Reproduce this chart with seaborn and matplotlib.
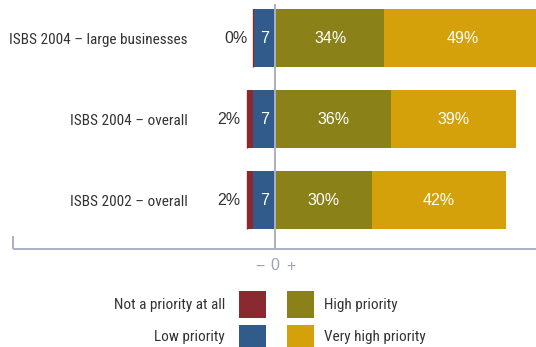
import matplotlib
matplotlib.use("Agg")
import matplotlib.pyplot as plt
from matplotlib.patches import Rectangle
import pandas as pd
import seaborn as sns

# Survey results: priority given to the topic, by survey group
categories = ["ISBS 2004 – large businesses", "ISBS 2004 – overall", "ISBS 2002 – overall"]
not_priority = [0, 2, 2]
low_priority = [7, 7, 7]
high_priority = [34, 36, 30]
very_high_priority = [49, 39, 42]

series_names = ["Not a priority at all", "Low priority", "High priority", "Very high priority"]
colors = {"Not a priority at all": "#8B2930",
          "Low priority": "#305B8B",
          "High priority": "#8B8119",
          "Very high priority": "#D5A10A"}
axis_color = "#A9B0C8"
text_color = "#333333"

sns.set_theme(style="white")
plt.rcParams["font.family"] = ["Roboto Condensed", "DejaVu Sans"]
plt.rcParams["font.stretch"] = "condensed"
num_font = ["Liberation Sans", "DejaVu Sans"]

df = pd.DataFrame({
    "category": categories,
    "not": not_priority,
    "low": low_priority,
    "high": high_priority,
    "very_high": very_high_priority,
})
# Cumulative extents for the diverging stack (negatives to the left of zero)
df["neg_outer"] = -(df["not"] + df["low"])
df["neg_inner"] = -df["low"]
df["pos_outer"] = df["high"] + df["very_high"]
df["pos_inner"] = df["high"]

W, H = 536, 347
fig = plt.figure(figsize=(W / 100, H / 100), dpi=100)
ax = fig.add_axes([0, 0, 1, 1])

bar_w = 0.72
red = colors["Not a priority at all"]
sns.barplot(data=df, x="neg_outer", y="category", orient="h", color=red,
            width=bar_w, saturation=1, linewidth=0, ax=ax)
sns.barplot(data=df, x="neg_inner", y="category", orient="h", color=colors["Low priority"],
            width=bar_w, saturation=1, linewidth=0, ax=ax)
sns.barplot(data=df, x="pos_outer", y="category", orient="h", color=colors["Very high priority"],
            width=bar_w, saturation=1, linewidth=0, ax=ax)
sns.barplot(data=df, x="pos_inner", y="category", orient="h", color=colors["High priority"],
            width=bar_w, saturation=1, linewidth=0, ax=ax)
# Left edge stroke of the outermost segment (keeps a 0% segment visible as a hairline)
ax.vlines(df["neg_outer"], [i - bar_w / 2 for i in range(len(df))],
          [i + bar_w / 2 for i in range(len(df))], color=red, lw=1.0, zorder=3)

# Scale: 3.2 px per percentage point, zero at x=275.7 px; rows 81 px apart
unit = 3.2
x0 = 275.7
ax.set_xlim(-x0 / unit, (W - x0) / unit)
row0, row_step = 38, 81
ax.set_ylim((H - row0) / row_step, -row0 / row_step)
ax.axis("off")

fs = 11
nfs = 11.5
label_x = (188 - x0) / unit
for i, row in df.iterrows():
    ax.text(label_x, i + 0.03, row["category"], ha="right", va="center",
            fontsize=fs, color=text_color)
    ax.text(row["neg_outer"] - 1.9, i + 0.01, f"{row['not']}%", ha="right", va="center",
            fontsize=nfs, color=text_color, family=num_font)
    ax.text(-row["low"] / 2, i + 0.01, f"{row['low']}", ha="center", va="center",
            fontsize=nfs, color="white", family=num_font)
    ax.text(row["high"] / 2, i + 0.01, f"{row['high']}%", ha="center", va="center",
            fontsize=nfs, color="white", family=num_font)
    ax.text(row["high"] + row["very_high"] / 2, i + 0.01, f"{row['very_high']}%",
            ha="center", va="center", fontsize=nfs, color="white", family=num_font)

# Baseline, zero line and left end tick
base_y = (249 - row0) / row_step
top_y = (4 - row0) / row_step
left_x = (13 - x0) / unit
ax.plot([left_x, (W - x0) / unit], [base_y, base_y], color=axis_color, lw=1.4,
        solid_capstyle="butt", zorder=5)
ax.plot([left_x, left_x], [(236 - row0) / row_step, base_y], color=axis_color, lw=1.4,
        solid_capstyle="butt", zorder=5)
ax.plot([-0.3, -0.3], [top_y, base_y], color=axis_color, lw=1.4, solid_capstyle="butt", zorder=5)

tick_y = (266 - row0) / row_step
for dx, s in [(-5.0, "−"), (-0.3, "0"), (4.6, "+")]:
    ax.text(dx, tick_y, s, ha="center", va="center", fontsize=nfs, color="#9AA2BC",
            family=num_font)

# Legend: two columns of swatches, labels outside
def fig_rect(px, py, w, h, color):
    fig.add_artist(Rectangle((px / W, 1 - (py + h) / H), w / W, h / H,
                             transform=fig.transFigure, color=color, lw=0))

def fig_text(px, py, s, ha):
    fig.text(px / W, 1 - py / H, s, ha=ha, va="center", fontsize=fs, color=text_color)

legend_rows = [291, 325]
fig_rect(239, legend_rows[0], 27, 27, colors[series_names[0]])
fig_rect(239, legend_rows[1], 27, 27, colors[series_names[1]])
fig_rect(287, legend_rows[0], 27, 27, colors[series_names[2]])
fig_rect(287, legend_rows[1], 27, 27, colors[series_names[3]])
fig_text(225, 305, series_names[0], "right")
fig_text(225, 336.5, series_names[1], "right")
fig_text(324, 305, series_names[2], "left")
fig_text(324, 336.5, series_names[3], "left")

fig.savefig("out.png", dpi=100)
